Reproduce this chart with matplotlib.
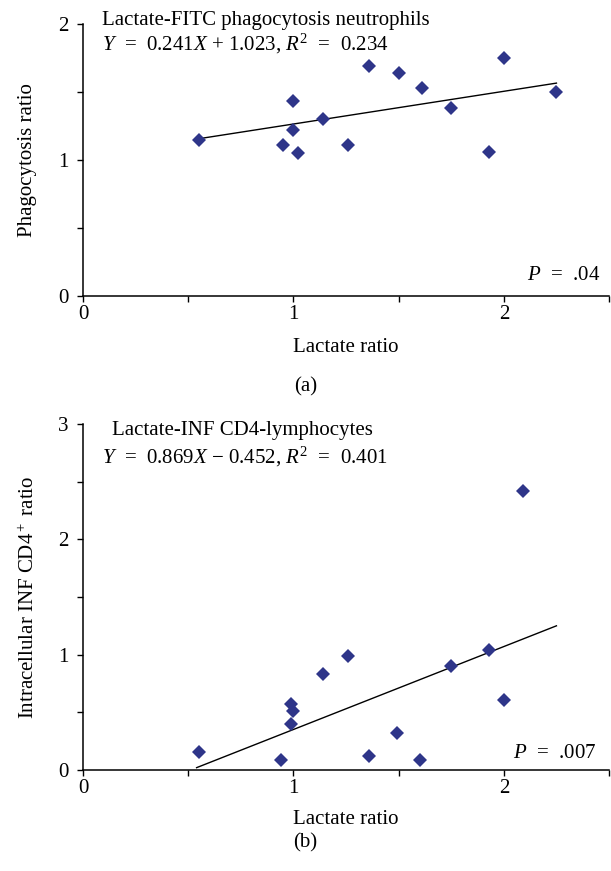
"""Lactate ratio vs phagocytosis / intracellular INF CD4+ ratio scatter plots."""

import matplotlib

matplotlib.use("Agg")
import matplotlib.pyplot as plt
from matplotlib.ticker import FixedFormatter, FixedLocator, MultipleLocator

plt.rcParams["font.family"] = ["Liberation Serif", "DejaVu Serif"]
plt.rcParams["mathtext.fontset"] = "custom"
plt.rcParams["mathtext.rm"] = "Liberation Serif"
plt.rcParams["mathtext.it"] = "Liberation Serif:italic"
plt.rcParams["font.size"] = 15

# panel (a): lactate vs phagocytosis (neutrophils)
lactate_a = [0.55, 0.95, 1.00, 1.00, 1.02, 1.14, 1.26, 1.36, 1.50, 1.61, 1.75, 1.93, 2.00, 2.25]
phago_a = [1.15, 1.11, 1.43, 1.22, 1.05, 1.30, 1.11, 1.69, 1.64, 1.53, 1.38, 1.06, 1.75, 1.50]
trend_x_a = [0.55, 2.25]
trend_y_a = [1.156, 1.565]

# panel (b): lactate vs intracellular INF CD4+ lymphocytes
lactate_b = [0.55, 0.94, 0.99, 1.00, 0.99, 1.14, 1.26, 1.36, 1.49, 1.60, 1.75, 1.93, 2.00, 2.09]
inf_b = [0.16, 0.09, 0.57, 0.51, 0.40, 0.83, 0.99, 0.12, 0.32, 0.09, 0.90, 1.04, 0.61, 2.42]
trend_x_b = [0.54, 2.25]
trend_y_b = [0.02, 1.25]

MARKER_COLOR = "#2E3589"


def style_axis(ax, y_max):
    for side in ("top", "right"):
        ax.spines[side].set_visible(False)
    for side in ("left", "bottom"):
        ax.spines[side].set_linewidth(1.1)
    ax.set_xlim(0, 2.5)
    ax.set_ylim(0, y_max)
    ax.xaxis.set_major_locator(FixedLocator([0, 1, 2]))
    ax.xaxis.set_major_formatter(FixedFormatter(["0", "1", "2"]))
    ax.xaxis.set_minor_locator(MultipleLocator(0.5))
    ax.yaxis.set_major_locator(MultipleLocator(1))
    ax.yaxis.set_minor_locator(MultipleLocator(0.5))
    ax.tick_params(which="both", direction="out", length=4.5, width=1.0, labelsize=15)
    ax.tick_params(axis="y", pad=6)
    ax.tick_params(axis="x", pad=2)


fig = plt.figure(figsize=(6.11, 8.71), dpi=100)
ax_a = fig.add_axes([0.1358, 0.6602, 0.861, 0.3123])
ax_b = fig.add_axes([0.1358, 0.1160, 0.861, 0.3972])

# (a)
ax_a.plot(trend_x_a, trend_y_a, color="black", linewidth=1.0)
ax_a.plot(lactate_a, phago_a, linestyle="none", marker="D", markersize=7.5,
          color=MARKER_COLOR, markeredgewidth=0)
style_axis(ax_a, 2)
ax_a.text(0.036, 0.996, "Lactate-FITC phagocytosis neutrophils", transform=ax_a.transAxes,
          ha="left", va="baseline")
ax_a.text(0.036, 0.904, "$Y$  =  0.241$X$ + 1.023, $R^2$  =  0.234", transform=ax_a.transAxes,
          ha="left", va="baseline")
ax_a.text(0.983, 0.059, "$P$  =  .04", transform=ax_a.transAxes, ha="right", va="baseline")
ax_a.set_xlabel("Lactate ratio")
ax_a.xaxis.set_label_coords(0.5, -0.155)
ax_a.set_ylabel("Phagocytosis ratio")
ax_a.yaxis.set_label_coords(-0.088, 0.5)

# (b)
ax_b.plot(trend_x_b, trend_y_b, color="black", linewidth=1.0)
ax_b.plot(lactate_b, inf_b, linestyle="none", marker="D", markersize=7.5,
          color=MARKER_COLOR, markeredgewidth=0)
style_axis(ax_b, 3)
ax_b.text(0.055, 0.968, "Lactate-INF CD4-lymphocytes", transform=ax_b.transAxes,
          ha="left", va="baseline")
ax_b.text(0.036, 0.887, "$Y$  =  0.869$X$ \u2212 0.452, $R^2$  =  0.401", transform=ax_b.transAxes,
          ha="left", va="baseline")
ax_b.text(0.977, 0.035, "$P$  =  .007", transform=ax_b.transAxes, ha="right", va="baseline")
ax_b.set_xlabel("Lactate ratio")
ax_b.xaxis.set_label_coords(0.5, -0.115)
ax_b.set_ylabel("Intracellular INF CD4$^+$ ratio")
ax_b.yaxis.set_label_coords(-0.083, 0.5)

fig.text(0.5, 0.5557, "(a)", ha="center", va="center", fontsize=15)
fig.text(0.5, 0.032, "(b)", ha="center", va="center", fontsize=15)

fig.savefig("out.png", dpi=100)
plt.close(fig)
